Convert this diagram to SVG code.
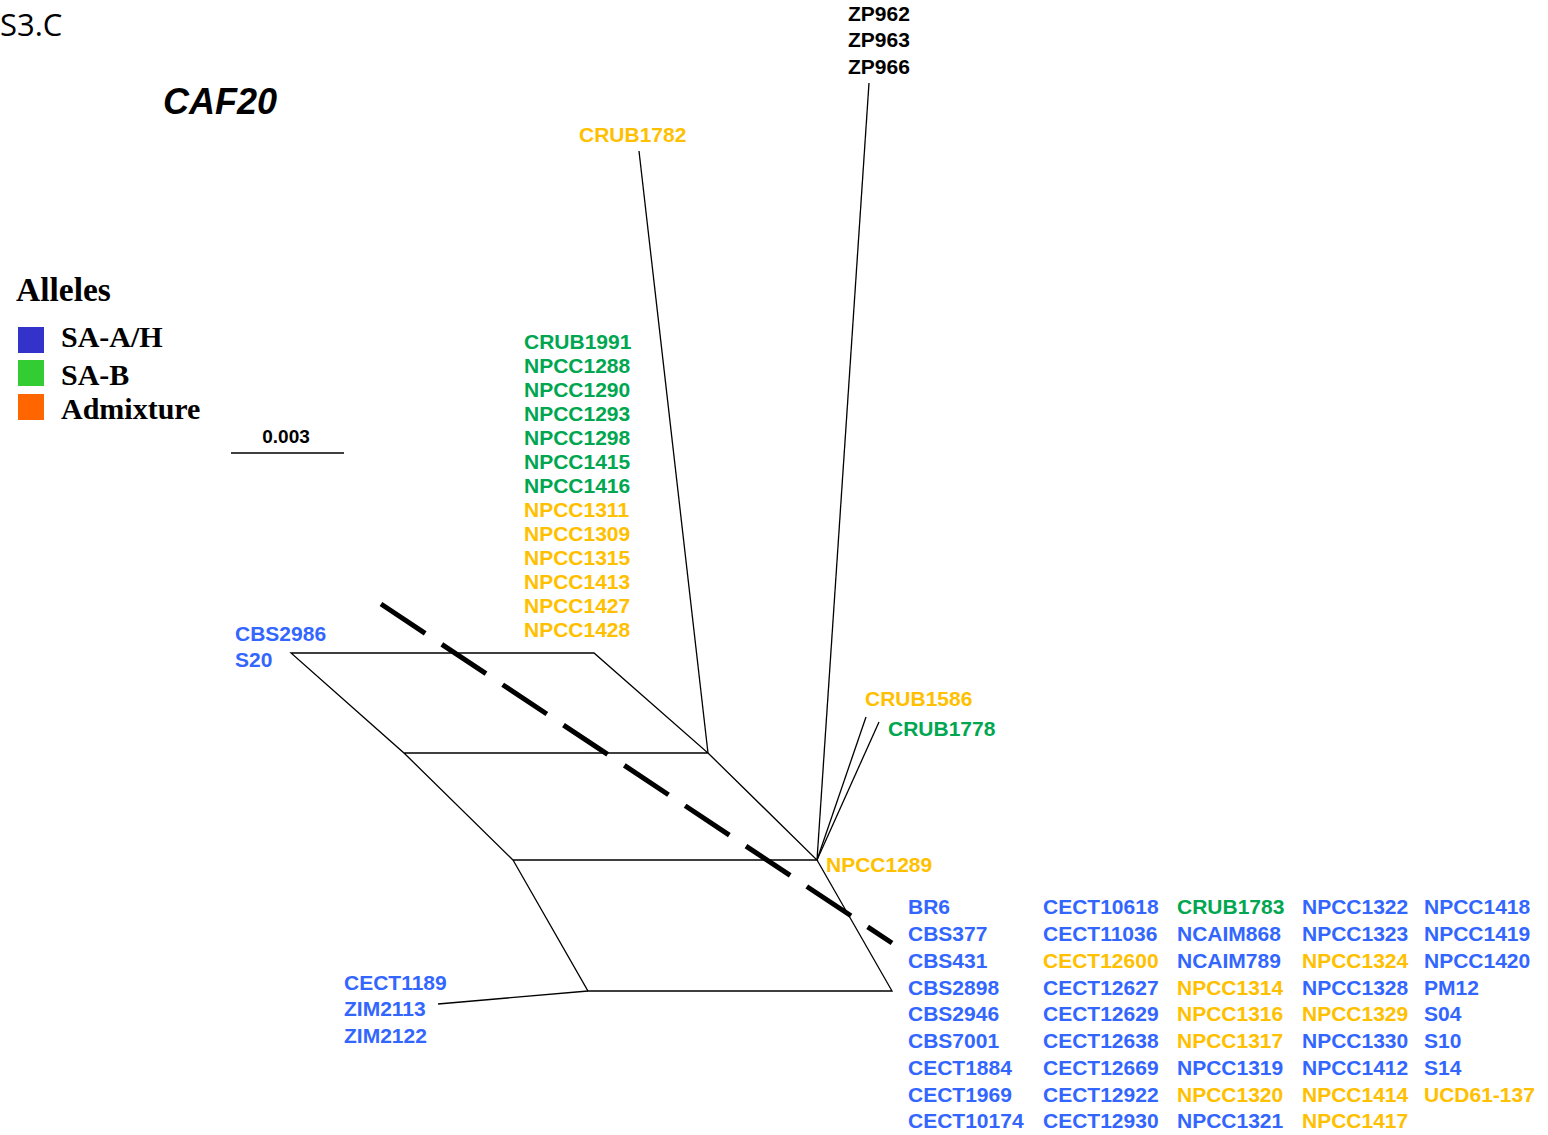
<svg xmlns="http://www.w3.org/2000/svg" width="1548" height="1135" viewBox="0 0 1548 1135">
<style>
.l{font-family:"Liberation Sans",Arial,sans-serif;font-weight:bold;font-size:21px}
.b{fill:#3366ff}.g{fill:#00a650}.y{fill:#ffc000}.k{fill:#000}
.e{stroke:#000;stroke-width:1.3;fill:none}
.leg{font-family:"Liberation Serif","Times New Roman",serif;font-weight:bold;font-size:30px}
</style>
<rect width="1548" height="1135" fill="#fff"/>
<text x="0" y="36" font-family="Open Sans,Liberation Sans,sans-serif" font-size="31">S3.C</text>
<text x="163" y="114" font-family="Liberation Sans,Arial,sans-serif" font-weight="bold" font-style="italic" font-size="36">CAF20</text>
<g id="legend">
<text x="16" y="301" class="leg" style="font-size:33.5px">Alleles</text>
<rect x="18" y="327" width="26" height="26" fill="#3333cc"/>
<rect x="18" y="360" width="26" height="26" fill="#33cc33"/>
<rect x="18" y="394" width="26" height="26" fill="#ff6600"/>
<text x="61" y="347" class="leg">SA-A/H</text>
<text x="61" y="385" class="leg">SA-B</text>
<text x="61" y="419" class="leg">Admixture</text>
</g>
<g id="scale">
<text x="286" y="443" text-anchor="middle" font-family="Liberation Sans,Arial,sans-serif" font-weight="bold" font-size="19">0.003</text>
<line x1="231" y1="453" x2="344" y2="453" stroke="#000" stroke-width="1.5"/>
</g>
<g id="connectors">
<path class="e" d="M291,653H594L708,753H404ZM404,753L513,860H817L708,753M513,860L588,991H892L817,860"/>
<line class="e" x1="708" y1="753" x2="639" y2="151"/>
<line class="e" x1="817" y1="860" x2="869" y2="83"/>
<line class="e" x1="817" y1="860" x2="866" y2="717"/>
<line class="e" x1="817" y1="860" x2="879" y2="722"/>
<line class="e" x1="588" y1="991" x2="438" y2="1004"/>
<line x1="381" y1="604" x2="892" y2="943" stroke="#000" stroke-width="5" stroke-dasharray="53 20"/>
</g>
<g id="node-zp" class="l k">
<text x="848" y="21">ZP962</text>
<text x="848" y="47">ZP963</text>
<text x="848" y="74">ZP966</text>
</g>
<g id="node-crub1782" class="l y"><text x="579" y="142">CRUB1782</text></g>
<g id="node-cluster-top" class="l">
<text x="524" y="349" class="g">CRUB1991</text>
<text x="524" y="373" class="g">NPCC1288</text>
<text x="524" y="397" class="g">NPCC1290</text>
<text x="524" y="421" class="g">NPCC1293</text>
<text x="524" y="445" class="g">NPCC1298</text>
<text x="524" y="469" class="g">NPCC1415</text>
<text x="524" y="493" class="g">NPCC1416</text>
<text x="524" y="517" class="y">NPCC1311</text>
<text x="524" y="541" class="y">NPCC1309</text>
<text x="524" y="565" class="y">NPCC1315</text>
<text x="524" y="589" class="y">NPCC1413</text>
<text x="524" y="613" class="y">NPCC1427</text>
<text x="524" y="637" class="y">NPCC1428</text>
</g>
<g id="node-cbs2986" class="l b">
<text x="235" y="641">CBS2986</text>
<text x="235" y="667">S20</text>
</g>
<g id="node-crub1586" class="l y"><text x="865" y="706">CRUB1586</text></g>
<g id="node-crub1778" class="l g"><text x="888" y="736">CRUB1778</text></g>
<g id="node-npcc1289" class="l y"><text x="826" y="872">NPCC1289</text></g>
<g id="node-cect1189" class="l b">
<text x="344" y="990">CECT1189</text>
<text x="344" y="1016">ZIM2113</text>
<text x="344" y="1043">ZIM2122</text>
</g>
<g id="node-main" class="l">
<text x="908" y="914" class="b">BR6</text>
<text x="908" y="941" class="b">CBS377</text>
<text x="908" y="968" class="b">CBS431</text>
<text x="908" y="995" class="b">CBS2898</text>
<text x="908" y="1021" class="b">CBS2946</text>
<text x="908" y="1048" class="b">CBS7001</text>
<text x="908" y="1075" class="b">CECT1884</text>
<text x="908" y="1102" class="b">CECT1969</text>
<text x="908" y="1128" class="b">CECT10174</text>
<text x="1043" y="914" class="b">CECT10618</text>
<text x="1043" y="941" class="b">CECT11036</text>
<text x="1043" y="968" class="y">CECT12600</text>
<text x="1043" y="995" class="b">CECT12627</text>
<text x="1043" y="1021" class="b">CECT12629</text>
<text x="1043" y="1048" class="b">CECT12638</text>
<text x="1043" y="1075" class="b">CECT12669</text>
<text x="1043" y="1102" class="b">CECT12922</text>
<text x="1043" y="1128" class="b">CECT12930</text>
<text x="1177" y="914" class="g">CRUB1783</text>
<text x="1177" y="941" class="b">NCAIM868</text>
<text x="1177" y="968" class="b">NCAIM789</text>
<text x="1177" y="995" class="y">NPCC1314</text>
<text x="1177" y="1021" class="y">NPCC1316</text>
<text x="1177" y="1048" class="y">NPCC1317</text>
<text x="1177" y="1075" class="b">NPCC1319</text>
<text x="1177" y="1102" class="y">NPCC1320</text>
<text x="1177" y="1128" class="b">NPCC1321</text>
<text x="1302" y="914" class="b">NPCC1322</text>
<text x="1302" y="941" class="b">NPCC1323</text>
<text x="1302" y="968" class="y">NPCC1324</text>
<text x="1302" y="995" class="b">NPCC1328</text>
<text x="1302" y="1021" class="y">NPCC1329</text>
<text x="1302" y="1048" class="b">NPCC1330</text>
<text x="1302" y="1075" class="b">NPCC1412</text>
<text x="1302" y="1102" class="y">NPCC1414</text>
<text x="1302" y="1128" class="y">NPCC1417</text>
<text x="1424" y="914" class="b">NPCC1418</text>
<text x="1424" y="941" class="b">NPCC1419</text>
<text x="1424" y="968" class="b">NPCC1420</text>
<text x="1424" y="995" class="b">PM12</text>
<text x="1424" y="1021" class="b">S04</text>
<text x="1424" y="1048" class="b">S10</text>
<text x="1424" y="1075" class="b">S14</text>
<text x="1424" y="1102" class="y">UCD61-137</text>
</g>
</svg>
